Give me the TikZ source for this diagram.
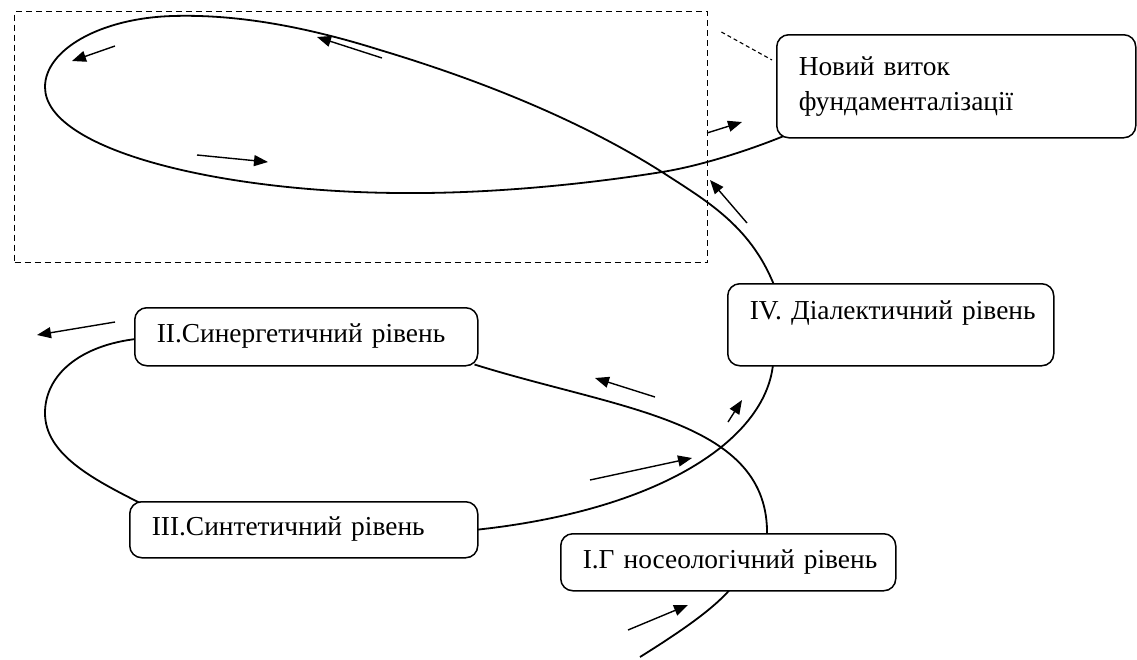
\documentclass[tikz,border=0pt]{standalone}
\usepackage{fontspec}
\setmainfont{Liberation Serif}
\usetikzlibrary{arrows.meta,calc,backgrounds}
\hfuzz=100pt
\begin{document}
\begin{tikzpicture}[x=1pt,y=-1pt,
  level/.style={draw, line width=1.5pt, rounded corners=12pt, fill=white,
    anchor=north west, align=left, inner xsep=22pt, inner ysep=0pt,
    font=\fontsize{27.4}{35}\selectfont, text height=18pt, text depth=6pt},
  spiral/.style={line width=1.8pt},
  flow/.style={line width=1.4pt, -{Triangle[length=14pt,width=11pt]}},
  frameline/.style={line width=1.4pt, dash pattern=on 6pt off 4pt},
]
\useasboundingbox (0,0) rectangle (1137,659);

% dashed frame round the new turn of the spiral
\node[frameline, draw, anchor=north west, inner sep=0pt,
      minimum width=693pt, minimum height=251pt] (frame) at (14,11) {};

% level boxes (each line kept whole in an \mbox)
\node[level, text width=315pt, minimum height=103pt, text height=, text depth=] (n0) at (776,34)
  {\mbox{Новий виток}\\\mbox{фундаменталізації}};
\node[level, text width=282pt, minimum height=82pt, text depth=28pt] (n4) at (727,283)
  {\mbox{IV. Діалектичний рівень}};
\node[level, text width=299pt, minimum height=58pt] (n2) at (134,307)
  {\mbox{II.Синергетичний рівень}};
\node[level, text width=304pt, minimum height=56pt] (n3) at (129,501)
  {\mbox{III.Синтетичний рівень}};
\node[level, text width=291pt, minimum height=57pt] (n1) at (560,533)
  {\mbox{I.Г носеологічний рівень}};

\coordinate (tail) at (640,657);

% the spiral, drawn beneath the boxes
\begin{scope}[on background layer]
  \fill[white] (0,0) rectangle (1137,659);
  \draw[spiral] (tail) .. controls (680,632) and (712,610) .. ($(n1.south west)+(170,-2)$);
  \draw[spiral] ($(n1.north west)+(207,3)$) .. controls (770,420) and (620,410) .. ($(n2.south east)+(-4,-2)$);
  \draw[spiral] ($(n2.west)+(4,2)$) .. controls (80,345) and (45,375) .. (45,413)
                .. controls (45,455) and (95,480) .. ($(n3.north west)+(11,2)$);
  \draw[spiral] ($(n3.east)+(-2,0)$) .. controls (660,510) and (765,440) .. ($(n4.south west)+(46,-2)$);
  \draw[spiral] ($(n4.north west)+(47,2)$) .. controls (750,225) and (705,200) .. (662,172)
                .. controls (580,120) and (480,80) .. (380,50)
                .. controls (310,28) and (240,14) .. (173,16)
                .. controls (100,18) and (45,50) .. (45,87)
                .. controls (45,150) and (220,192) .. (400,193)
                .. controls (500,194) and (600,182) .. (662,172)
                .. controls (700,166) and (750,150) .. ($(n0.south west)+(9,-3)$);
\end{scope}

% link from the frame to its caption
\draw[line width=1.1pt, dash pattern=on 4pt off 3pt]
  ($(frame.north east)+(13,21)$) -- ($(n0.north west)+(-4,26)$);

% direction arrows along the spiral
\foreach \i/\sx/\sy/\ex/\ey in {
  1/115/46/72/61, 2/382/58/317/37, 3/197/155/268/162, 4/707/133/742/122,
  5/747/223/710/180, 6/115/322/37/335, 7/655/397/595/378, 8/728/422/742/400,
  9/590/480/692/458, 10/628/630/688/605} {
  \coordinate (s\i) at (\sx,\sy);
  \coordinate (e\i) at (\ex,\ey);
  \draw[flow] (s\i) -- (e\i);
}
\end{tikzpicture}
\end{document}
